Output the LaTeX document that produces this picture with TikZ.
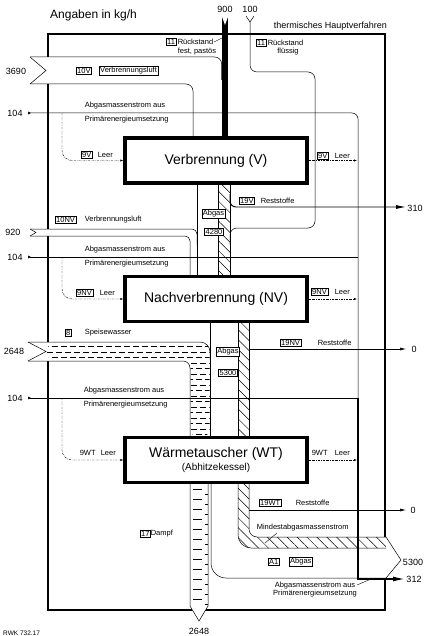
\documentclass[tikz,border=0pt]{standalone}
\usepackage{fontspec}
\setmainfont{Liberation Sans}
\usetikzlibrary{arrows.meta,patterns.meta}
\tikzset{
	rahmen/.style={line width=2.2pt},
	prozess/.style={draw,fill=white,line width=3.5pt,minimum width=182pt,minimum height=45pt,inner sep=0pt,font=\fontsize{14}{16}\selectfont},
	txt/.style={font=\fontsize{7.5}{8}\selectfont,inner sep=0.6pt},
	tag/.style={txt,draw,fill=white,line width=0.4pt,inner sep=1pt},
	zahl/.style={font=\fontsize{9}{10}\selectfont,inner sep=0pt},
	strom/.style={line width=0.5pt},
	leer/.style={line width=0.45pt,dash pattern=on 2pt off 1pt on 0.6pt off 1pt,-{Latex[length=3pt,width=2.2pt]}},
	schraff/.style={pattern={Lines[angle=-45,distance=7pt,line width=0.5pt]}},
	zu/.style={arrows={Latex[reversed,length=3pt,width=3pt]-}},
}
\begin{document}
\begin{tikzpicture}[x=1pt,y=-1pt]
	\useasboundingbox (0,0) rectangle (425,636);
	\draw[rahmen] (385,537) -- (385,34) -- (48,34) -- (48,610) -- (385,610) -- (385,578);

	\fill[white] (30,57) -- (222,57) -- (222,140) -- (193,140) -- (193,84) -- (30,84) -- (46,70.5) -- cycle;
	\fill[white] (30,229) -- (197,229) -- (197,278) -- (190,278) -- (190,236) -- (30,236) -- (36,232.5) -- cycle;
	\fill[white] (28,342) -- (210,342) -- (210,438) -- (190,438) -- (190,361) -- (28,361) -- (46,351.5) -- cycle;
	\fill[white] (190,482) -- (190,606) -- (199,621) -- (208,606) -- (208,482) -- cycle;
	\fill[white] (211,482) -- (211,578) -- (386,578) -- (401,560) -- (386,537) -- (249,537) -- (249,482) -- cycle;

	\begin{scope}
		\clip[rounded corners=8pt] (47,343) -- (209.5,343) -- (209.5,437) -- (190.5,437) -- (190.5,360.5) -- (47,360.5) -- cycle;
		\foreach \y [count=\k] in {346.5,352,...,436} {
			\pgfmathsetmacro\ph{mod(\k,2)*4.5}
			\draw[line width=0.5pt,dash pattern=on 6pt off 3pt,dash phase=\ph pt] (47,\y) -- (210,\y);
		}
	\end{scope}
	\foreach \y in {489,499,...,599} \draw[line width=0.6pt] (193,\y) -- (202,\y);
	\foreach \y in {494,504,...,604} \draw[line width=0.6pt] (205,\y) -- (208,\y);

	\fill[schraff] (218,184) rectangle (230,276);
	\fill[schraff] (238,322) rectangle (249,437);
	\fill[schraff] (238,482) -- (238,535) arc[start angle=180,end angle=90,radius=13] -- (386,548) -- (386,537) -- (257,537) arc[start angle=90,end angle=180,radius=8] -- (249,482) -- cycle;

	\draw[strom] (30,84) -- (46,70.5) -- (30,57);
	\draw[strom,rounded corners=7pt] (30,57) -- (221.7,57) -- (221.7,80);
	\draw[strom,rounded corners=7pt] (30,84) -- (193,84) -- (193,140);
	\draw[line width=6pt] (225,17) -- (225,140);
	\fill[white] (221.5,15.5) -- (225,25) -- (228.5,15.5) -- cycle;

	\draw[strom] (246,16) -- (250,22) -- (254,16);
	\draw[strom,rounded corners=7pt] (250,22) -- (250,72) -- (315,72) -- (315,228) -- (230,228) -- (230,245);

	\draw[strom] (197,184) -- (197,276) (218,184) -- (218,276) (230,184) -- (230,276);
	\draw[line width=0.9pt,rounded corners=6pt,-{Latex[length=10pt,width=4pt]}] (230,194) -- (230,207) -- (406,207);

	\draw[strom] (30,236) -- (36,232.5) -- (30,229);
	\draw[strom,rounded corners=5pt] (30,229) -- (197,229) -- (197,245);
	\draw[strom,rounded corners=5pt] (30,236) -- (190,236) -- (190,278);

	\draw[strom] (28,361) -- (46,351.5) -- (28,342);
	\draw[strom,rounded corners=10pt] (28,342) -- (210,342) -- (210,360);
	\draw[strom,rounded corners=7pt] (28,361) -- (190,361) -- (190,438);
	\draw[strom] (210,322) -- (210,438) (238,322) -- (238,438) (249,322) -- (249,438);
	\draw[line width=0.6pt,-{Latex[length=6pt,width=3pt]}] (249,349) -- (406,349);

	\draw[strom] (190,482) -- (190,606) -- (199,621) -- (208,606) -- (208,482);
	\draw[strom] (211,482) -- (211,563) arc[start angle=180,end angle=90,radius=15] -- (386,578) -- (401,560) -- (386,537) -- (257,537) arc[start angle=90,end angle=180,radius=8] -- (249,482);
	\draw[strom] (238,482) -- (238,535) arc[start angle=180,end angle=90,radius=13] -- (386,548);
	\draw[line width=0.6pt,-{Latex[length=6pt,width=3pt]}] (249,510) -- (406,510);

	\draw[strom,zu,rounded corners=6pt] (28,113) -- (358,113) -- (358,398);
	\draw[strom,zu] (28,257) -- (358,257);
	\draw[strom,zu] (28,398) -- (358,398);
	\draw[line width=1.4pt,-{Latex[length=12pt,width=5pt]}] (358,398) -- (358,579) -- (405,579);

	\node[prozess] (V) at (216,160.5) {Verbrennung (V)};
	\node[prozess] (NV) at (216,299) {Nachverbrennung (NV)};
	\node[prozess,align=center] (WT) at (216,460) {Wärmetauscher (WT)\\[-3pt]{\fontsize{10}{12}\selectfont(Abhitzekessel)}};

	\draw[leer,rounded corners=10pt] (62,113) -- (62,0 |- V.west) -- (V.west);
	\draw[leer] (V.east) -- (V.east -| 357,0);
	\draw[leer,rounded corners=10pt] (62,257) -- (62,0 |- NV.west) -- (NV.west);
	\draw[leer] (NV.east) -- (NV.east -| 357,0);
	\draw[leer,rounded corners=10pt] (62,398) -- (62,0 |- WT.west) -- (WT.west);
	\draw[leer] (WT.east) -- (WT.east -| 357,0);

	\node[anchor=west,font=\fontsize{12}{14}\selectfont,inner sep=0pt] (angaben) at (50,15) {Angaben in kg/h};
	\node[zahl] (n900) at (225,9) {900};
	\node[zahl] (n100) at (250,9) {100};
	\node[anchor=east,font=\fontsize{9}{10}\selectfont,inner sep=0pt] (thv) at (387,26) {thermisches Hauptverfahren};
	\node[tag,anchor=west] (t11a) at (166,42) {11};
	\node[txt,anchor=west] (rfest) at (177,42) {Rückstand};
	\node[txt,anchor=west] (rfest2) at (177,52) {fest, pastös};
	\draw[line width=0.4pt] (rfest.east) -- (222,38);
	\node[tag,anchor=west] (t11b) at (256,43) {11};
	\node[txt,anchor=west] (rfl) at (267,43) {Rückstand};
	\node[txt] (rfl2) at (288,52) {flüssig};

	\node[zahl] (n3690) at (16,71) {3690};
	\node[tag,anchor=west] (t10v) at (76,71) {10V};
	\node[tag,anchor=west] (luftv) at (99,71) {Verbrennungsluft};

	\node[zahl] (n104a) at (15,113) {104};
	\node[txt,anchor=west] (abga) at (84,106) {Abgasmassenstrom aus};
	\node[txt,anchor=west] (pria) at (84,120) {Primärenergieumsetzung};
	\node[zahl] (n104b) at (15,257) {104};
	\node[txt,anchor=west] (abgb) at (84,250) {Abgasmassenstrom aus};
	\node[txt,anchor=west] (prib) at (84,264) {Primärenergieumsetzung};
	\node[zahl] (n104c) at (15,398) {104};
	\node[txt,anchor=west] (abgc) at (83,391) {Abgasmassenstrom aus};
	\node[txt,anchor=west] (pric) at (83,405) {Primärenergieumsetzung};

	\node[tag,anchor=west] (t9va) at (81,155) {9V};
	\node[txt,anchor=west] (leerva) at (97,155) {Leer};
	\node[tag,anchor=west] (t9vb) at (317,156) {9V};
	\node[txt,anchor=west] (leervb) at (334,156) {Leer};
	\node[tag,anchor=west] (t9nva) at (76,293) {9NV};
	\node[txt,anchor=west] (leernva) at (99,293) {Leer};
	\node[tag,anchor=west] (t9nvb) at (311,292) {9NV};
	\node[txt,anchor=west] (leernvb) at (334,292) {Leer};
	\node[txt,anchor=west] (t9wta) at (79,453) {9WT};
	\node[txt,anchor=west] (leerwta) at (100,453) {Leer};
	\node[txt,anchor=west] (t9wtb) at (311,453) {9WT};
	\node[txt,anchor=west] (leerwtb) at (334,453) {Leer};

	\node[tag] (abgv) at (213.5,214) {Abgas};
	\node[tag] (m4280) at (214,232) {4280};
	\node[tag,anchor=west] (t19v) at (239,201) {19V};
	\node[txt,anchor=west] (restv) at (260,201) {Reststoffe};
	\node[zahl] (n310) at (415,208) {310};

	\node[tag,anchor=west] (t10nv) at (55,220) {10NV};
	\node[txt,anchor=west] (luftnv) at (84,220) {Verbrennungsluft};
	\node[zahl] (n920) at (13,232) {920};

	\node[tag,anchor=west] (t8) at (65,333) {8};
	\node[txt,anchor=west] (speise) at (84,333) {Speisewasser};
	\node[zahl] (n2648a) at (14,351) {2648};
	\node[tag] (abgnv) at (228,352) {Abgas};
	\node[tag] (m5300) at (228,373) {5300};
	\node[tag,anchor=west] (t19nv) at (280,343) {19NV};
	\node[txt,anchor=west] (restnv) at (317,343) {Reststoffe};
	\node[zahl] (n0a) at (414,349) {0};

	\node[tag,anchor=west] (t19wt) at (259,503) {19WT};
	\node[txt,anchor=west] (restwt) at (295,503) {Reststoffe};
	\node[zahl] (n0b) at (413,510) {0};
	\node[txt,anchor=west] (mind) at (256,528) {Mindestabgasmassenstrom};
	\coordinate (mindA) at (277,533);
	\coordinate (mindB) at (265,543);
	\draw[line width=0.4pt] (mindA) -- (mindB);
	\node[tag,anchor=west] (ta1) at (268,562) {A1};
	\node[tag,anchor=west] (abga1) at (289,562) {Abgas};
	\node[zahl] (n5300) at (413,562) {5300};
	\node[zahl] (n312) at (414,579) {312};
	\node[txt,align=center] (prim) at (315,590) {Abgasmassenstrom aus\\Primärenergieumsetzung};
	\coordinate (primA) at (357,585);
	\coordinate (primB) at (371,579);
	\draw[line width=0.4pt] (primA) -- (primB);
	\node[tag,anchor=west] (t17) at (140,534) {17};
	\node[txt,anchor=west] (dampf) at (150,534) {Dampf};
	\node[zahl] (n2648b) at (199,631) {2648};
	\node[anchor=west,font=\fontsize{6.5}{7}\selectfont,inner sep=0pt] (rwk) at (3,633) {RWK 732.17};
\end{tikzpicture}
\end{document}
